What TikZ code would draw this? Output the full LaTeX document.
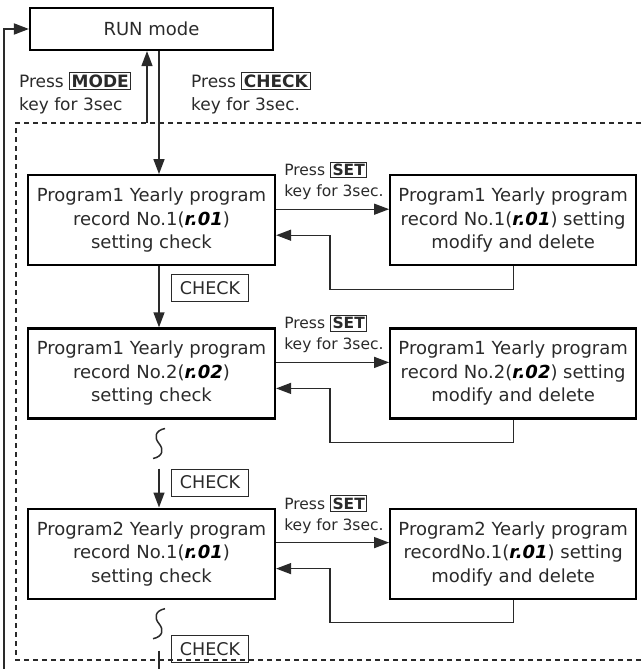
\documentclass[tikz,border=0pt]{standalone}
\usepackage{fontspec}
\setmainfont{DejaVu Sans}
\usepackage{xcolor}
\usetikzlibrary{arrows.meta,positioning,calc}
\definecolor{ink}{HTML}{2A2A2A}
\newcommand{\segd}[1]{{\color{black}\textbf{\textit{#1}}}}
\newcommand{\keyb}[1]{{\setlength{\fboxsep}{1.5pt}\setlength{\fboxrule}{1pt}\fbox{\textbf{#1}}}}

\begin{document}
\begin{tikzpicture}[x=1pt,y=-1pt,
  state/.style={draw=black,line width=2.2pt,align=center,inner sep=0pt,minimum width=247pt,minimum height=90pt,
    font=\fontsize{18}{23.5}\selectfont,text=ink},
  arr/.style={draw=ink,line width=1.4pt,-{Triangle[length=15pt,width=11pt]}},
  conn/.style={draw=ink,line width=1.4pt},
  keylbl/.style={align=left,inner sep=0pt,font=\fontsize{15.5}{21}\selectfont,text=ink},
  toplbl/.style={align=left,inner sep=0pt,font=\fontsize{17}{23}\selectfont,text=ink},
  ckbox/.style={draw=ink,line width=1pt,inner sep=2pt,minimum width=77pt,minimum height=27pt,
    font=\fontsize{17.5}{20}\selectfont,text=ink},
  brk/.pic={\draw[ink,line width=1.5pt] (6,0) .. controls (-4,2) and (-5,9) .. (0,15) .. controls (5,21) and (4,28) .. (-6,30);}]
  \useasboundingbox (0,0) rectangle (641,669);
  % dashed frame round the record loop
  \draw[ink,line width=1.2pt,dash pattern=on 5pt off 4pt] (641,123) -- (16,123) -- (16,660) -- (641,660);
  % states
  \node[state,minimum width=243pt,minimum height=42pt] (run) at (151.5,29) {RUN mode};
  \node[state,below=123pt of run] (p1) {Program1 Yearly program\\record No.1(\segd{r.01})\\setting check};
  \node[state,below=61pt of p1] (p2) {Program1 Yearly program\\record No.2(\segd{r.02})\\setting check};
  \node[state,below=88pt of p2] (p3) {Program2 Yearly program\\record No.1(\segd{r.01})\\setting check};
  \node[state,minimum width=246pt,right=113pt of p1] (r1) {Program1 Yearly program\\record No.1(\segd{r.01}) setting\\modify and delete};
  \node[state,minimum width=246pt,right=113pt of p2] (r2) {Program1 Yearly program\\record No.2(\segd{r.02}) setting\\modify and delete};
  \node[state,minimum width=246pt,right=113pt of p3] (r3) {Program2 Yearly program\\recordNo.1(\segd{r.01}) setting\\modify and delete};
  % key labels
  \node[toplbl,anchor=north west] (m1) at ([xshift=-10pt,yshift=-21pt]run.south west) {Press \keyb{MODE}\\key for 3sec};
  \node[toplbl,anchor=north west] (m2) at ([xshift=39.5pt,yshift=-21pt]run.south) {Press \keyb{CHECK}\\key for 3sec.};
  \foreach \a in {p1,p2,p3}
    \node[keylbl,anchor=south west] (s\a) at ([xshift=8pt,yshift=20pt]\a.east) {Press \keyb{SET}\\key for 3sec.};
  \node[ckbox,anchor=north west] (k1) at ([xshift=19.5pt,yshift=-8pt]p1.south) {CHECK};
  \node[ckbox,anchor=north west] (k2) at ([xshift=19.5pt,yshift=39pt]p3.north) {CHECK};
  \node[ckbox,anchor=north west] (k3) at ([xshift=19.5pt,yshift=-35pt]p3.south) {CHECK};
  % RUN mode in and out
  \coordinate (dtop) at (147,123);
  \coordinate (lp) at (4,669);
  \draw[arr] ([xshift=7.5pt]run.south) -- ([xshift=7.5pt]p1.north);
  \draw[arr] (dtop) -- (dtop |- run.south);
  \draw[arr,line width=1.8pt] (lp) |- (run.west);
  % CHECK steps down the records
  \draw[arr] ([xshift=7.5pt]p1.south) -- ([xshift=7.5pt]p2.north);
  \pic at ([xshift=7.5pt,yshift=-9pt]p2.south) {brk};
  \coordinate (c2a) at ([xshift=7.5pt,yshift=39pt]p3.north);
  \draw[arr] (c2a) -- ([xshift=7.5pt]p3.north);
  \pic at ([xshift=7.5pt,yshift=-9pt]p3.south) {brk};
  \coordinate (c3a) at ([xshift=7.5pt,yshift=-51pt]p3.south);
  \draw[conn] (c3a) -- (c3a |- lp);
  % SET to edit, and back
  \foreach \a/\b in {p1/r1,p2/r2,p3/r3} {
    \draw[arr] ([yshift=11pt]\a.east) -- ([yshift=11pt]\b.west);
    \draw[arr] (\b.south) -- ++(0,23) -| ([xshift=54pt,yshift=-15pt]\a.east) -- ([yshift=-15pt]\a.east);
  }
\end{tikzpicture}
\end{document}
